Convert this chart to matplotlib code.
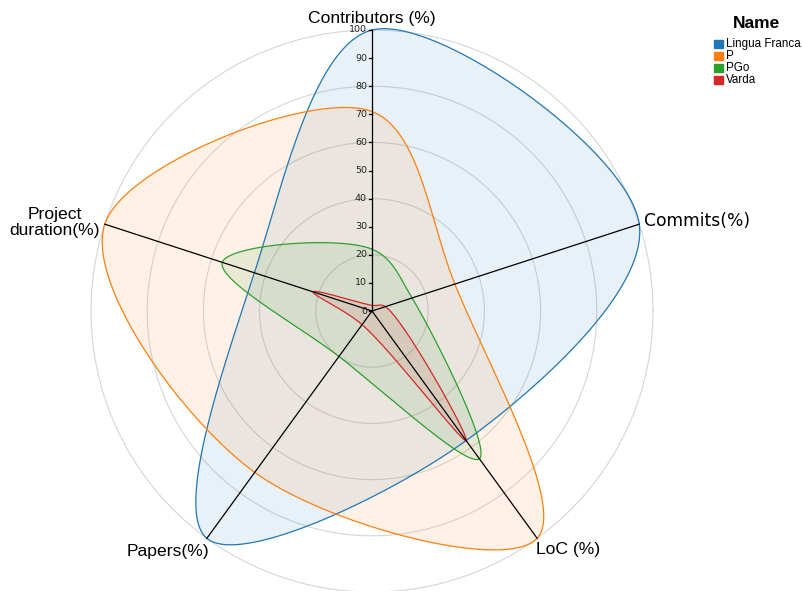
import numpy as np
import matplotlib
matplotlib.use("Agg")
import matplotlib.pyplot as plt
from matplotlib.patches import Rectangle

# --- data ---
axis_labels = ["Contributors (%)", "Commits(%)", "LoC (%)", "Papers(%)", "Project\nduration(%)"]
names = ["Lingua Franca", "P", "PGo", "Varda"]
lingua_franca = [100, 100, 57, 100, 44]
p_lang = [71, 31, 100, 71, 100]
pgo = [22, 15, 65, 20, 56]
varda = [2, 5, 57, 6, 22]
series = [lingua_franca, p_lang, pgo, varda]
colors = ["#1f77b4", "#ff7f0e", "#2ca02c", "#d62728"]
ticks = list(range(0, 101, 10))
grid_levels = [20, 40, 60, 80, 100]

W, H = 803, 591
CX, CY, R = 372, 311, 281  # centre / radius in pixels
PT = 0.72  # points per pixel at dpi 100


def catmull_rom_closed(xs, ys, alpha=0.5, n=60):
    """Closed centripetal Catmull-Rom spline, same maths as d3.curveCatmullRomClosed."""
    pts = np.column_stack([xs, ys]).astype(float)
    k = len(pts)
    t = np.linspace(0, 1, n, endpoint=False)[:, None]
    out = []
    for i in range(k):
        p0, p1, p2, p3 = pts[(i - 1) % k], pts[i], pts[(i + 1) % k], pts[(i + 2) % k]
        d01 = np.hypot(*(p1 - p0))
        d12 = np.hypot(*(p2 - p1))
        d23 = np.hypot(*(p3 - p2))
        l01_a, l12_a, l23_a = d01 ** alpha, d12 ** alpha, d23 ** alpha
        l01_2a, l12_2a, l23_2a = d01 ** (2 * alpha), d12 ** (2 * alpha), d23 ** (2 * alpha)
        c1, c2 = p1.copy(), p2.copy()
        if l01_a > 1e-12:
            a = 2 * l01_2a + 3 * l01_a * l12_a + l12_2a
            nn = 3 * l01_a * (l01_a + l12_a)
            c1 = (p1 * a - p0 * l12_2a + p2 * l01_2a) / nn
        if l23_a > 1e-12:
            b = 2 * l23_2a + 3 * l23_a * l12_a + l12_2a
            m = 3 * l23_a * (l23_a + l12_a)
            c2 = (p2 * b + p1 * l23_2a - p3 * l12_2a) / m
        seg = ((1 - t) ** 3) * p1 + 3 * ((1 - t) ** 2) * t * c1 + 3 * (1 - t) * t ** 2 * c2 + t ** 3 * p2
        out.append(seg)
    out = np.vstack(out + [pts[:1]])
    return out[:, 0], out[:, 1]


fig = plt.figure(figsize=(W / 100, H / 100), dpi=100)
ax = fig.add_axes([0, 0, 1, 1])
ax.set_xlim(-CX / R * 100, (W - CX) / R * 100)
ax.set_ylim(-(H - CY) / R * 100, CY / R * 100)
ax.axis("off")

angles = np.deg2rad(90 - 72 * np.arange(len(axis_labels)))

# grid circles
th = np.linspace(0, 2 * np.pi, 400)
for lv in grid_levels:
    ax.plot(lv * np.cos(th), lv * np.sin(th), color="#d6d6d6", lw=0.8, zorder=1)

# series
for vals, col in zip(series, colors):
    v = np.array(vals, dtype=float)
    x, y = catmull_rom_closed(v * np.cos(angles), v * np.sin(angles))
    ax.fill(x, y, color=col, alpha=0.1, lw=0, zorder=2)
    ax.plot(x, y, color=col, lw=0.9, zorder=3)

# axis spokes
for a in angles:
    ax.plot([0, 100 * np.cos(a)], [0, 100 * np.sin(a)], color="black", lw=0.9, zorder=4)

# ticks on vertical axis
tick_len = 3 / R * 100
for t in ticks:
    ax.plot([-tick_len, 0], [t, t], color="black", lw=0.9, zorder=4)
    ax.annotate(str(t), (0, t), xytext=(-5 * PT, 0), textcoords="offset points",
                ha="right", va="center", fontsize=6.8, color="#222222",
                family="DejaVu Sans", zorder=5)

# axis labels
label_fmt = [
    dict(off=(0, 11), ha="center", family="Liberation Sans"),
    dict(off=(5, 3), ha="left", family="DejaVu Sans"),
    dict(off=(-1, -11), ha="left", family="Liberation Sans"),
    dict(off=(3, -13), ha="right", family="Liberation Sans"),
    dict(off=(-5, 2), ha="right", family="Liberation Sans"),
]
for lab, a, f in zip(axis_labels, angles, label_fmt):
    fs = 12.3 if f["family"] == "DejaVu Sans" else 12.6
    ax.annotate(lab, (100 * np.cos(a), 100 * np.sin(a)),
                xytext=(f["off"][0] * PT, f["off"][1] * PT), textcoords="offset points",
                ha=f["ha"], va="center", fontsize=fs, family=f["family"],
                multialignment="center", linespacing=1.1, zorder=5)

# legend
fig.text(757 / W, 1 - 24 / H, "Name", ha="center", va="center", fontsize=12.5,
         fontweight="bold", family="Liberation Sans")
for i, (nm, col) in enumerate(zip(names, colors)):
    yc = 44 + 12 * i
    fig.patches.append(Rectangle((714 / W, 1 - (yc + 4) / H), 9 / W, 8 / H,
                                 transform=fig.transFigure, color=col))
    fig.text(726 / W, 1 - yc / H, nm, ha="left", va="center", fontsize=8.4,
             family="Liberation Sans")

fig.savefig("out.png", dpi=100)
